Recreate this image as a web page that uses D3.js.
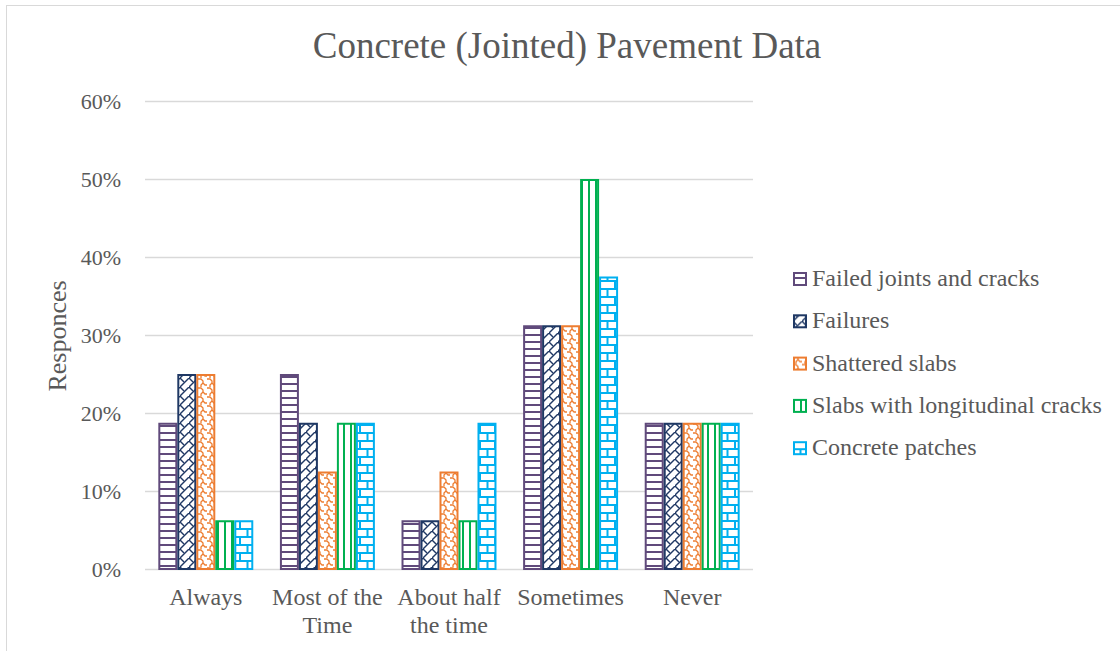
<!DOCTYPE html>
<html>
<head>
<meta charset="utf-8">
<script src="https://cdn.jsdelivr.net/npm/d3@7"></script>
<style>
  html, body { margin: 0; padding: 0; background: #fff; }
</style>
</head>
<body>
<div id="chart"></div>
<script>
// Categories and series (response shares)
const categories = ["Always", "Most of the Time", "About half the time", "Sometimes", "Never"];
const categoryLines = [["Always"], ["Most of the", "Time"], ["About half", "the time"], ["Sometimes"], ["Never"]];
const seriesNames = ["Failed joints and cracks", "Failures", "Shattered slabs", "Slabs with longitudinal cracks", "Concrete patches"];
const failedJoints = [0.1875, 0.25, 0.0625, 0.3125, 0.1875];
const failures = [0.25, 0.1875, 0.0625, 0.3125, 0.1875];
const shatteredSlabs = [0.25, 0.125, 0.125, 0.3125, 0.1875];
const longitudinal = [0.0625, 0.1875, 0.0625, 0.50, 0.1875];
const concretePatches = [0.0625, 0.1875, 0.1875, 0.375, 0.1875];
const yTicks = [0, 0.1, 0.2, 0.3, 0.4, 0.5, 0.6];

const seriesValues = [failedJoints, failures, shatteredSlabs, longitudinal, concretePatches];
const colors = ["#604A7B", "#1F3864", "#ED7D31", "#00B050", "#00B0F0"];

const width = 1120, height = 651;
const margin = { top: 101, right: 367, bottom: 82, left: 145 };
const FONT = "'Liberation Serif', 'Times New Roman', serif";

const svg = d3.select("#chart").append("svg")
    .attr("width", width)
    .attr("height", height)
    .style("font-family", FONT);

// patterns (Excel-like hatch fills)
const defs = svg.append("defs");
function pattern(id, w, h, color, draw) {
    const p = defs.append("pattern")
        .attr("id", id)
        .attr("patternUnits", "userSpaceOnUse")
        .attr("width", w).attr("height", h);
    p.append("rect").attr("width", w).attr("height", h).attr("fill", "#fff");
    draw(p.append("g").attr("stroke", color).attr("fill", "none").attr("stroke-width", 2));
}
// horizontal lines
pattern("p0", 8, 7, colors[0], g => g.append("path").attr("d", "M0,6 H8"));
// shingle
pattern("p1", 9, 9, colors[1], g => {
    g.append("path").attr("d", "M0,9 L9,0").attr("stroke-width", 1.4);
    g.append("path").attr("d", "M0,0 L4,4").attr("stroke-width", 1.4);
});
// wavy
pattern("p2", 9, 9, colors[2], g => {
    g.append("path").attr("d", "M0,1 L3,1 L5,3 L5,5 L7,7 L9,7").attr("stroke-width", 1.3);
    g.append("path").attr("d", "M5,5 L3,7 L3,9").attr("stroke-width", 1.3);
});
// vertical lines
pattern("p3", 7, 8, colors[3], g => g.append("path").attr("d", "M1,0 V8"));
// horizontal brick
pattern("p4", 15, 16, colors[4], g => {
    g.append("path").attr("d", "M0,1 H15 M0,9 H15 M7.5,1 V9 M0,9 V17 M15,9 V17").attr("stroke-width", 2);
});

// chart frame
svg.append("rect")
    .attr("x", 6.5).attr("y", 5.5)
    .attr("width", width + 10).attr("height", height + 10)
    .attr("fill", "none").attr("stroke", "#D9D9D9");

const x = d3.scaleBand()
    .domain(categories)
    .range([margin.left, width - margin.right])
    .paddingInner(0.219)
    .paddingOuter(0.1095);

const xInner = d3.scaleBand()
    .domain(seriesNames)
    .range([0, x.bandwidth()]);

const y = d3.scaleLinear()
    .domain([0, 0.6])
    .range([height - margin.bottom, margin.top]);

// grid
svg.append("g")
    .selectAll("line")
    .data(yTicks)
    .join("line")
    .attr("x1", margin.left).attr("x2", width - margin.right)
    .attr("y1", d => Math.round(y(d)) + 0.5).attr("y2", d => Math.round(y(d)) + 0.5)
    .attr("stroke", "#D9D9D9").attr("stroke-width", 1.5);

// y labels
svg.append("g")
    .selectAll("text")
    .data(yTicks)
    .join("text")
    .attr("x", 121)
    .attr("y", d => y(d) + 7.5)
    .attr("text-anchor", "end")
    .attr("fill", "#595959")
    .style("font-size", "22px")
    .text(d3.format(".0%"));

// bars
const groups = svg.append("g")
    .selectAll("g")
    .data(seriesValues)
    .join("g");

groups.selectAll("rect")
    .data((vals, si) => vals.map((v, ci) => ({ v, si, ci })))
    .join("rect")
    .attr("x", d => x(categories[d.ci]) + xInner(seriesNames[d.si]) + 1)
    .attr("y", d => y(d.v) + 1)
    .attr("width", xInner.bandwidth() - 2)
    .attr("height", d => y(0) - y(d.v) - 1)
    .attr("fill", d => `url(#p${d.si})`)
    .attr("stroke", d => colors[d.si])
    .attr("stroke-width", 2);

// x labels
const xl = svg.append("g")
    .selectAll("text")
    .data(categories)
    .join("text")
    .attr("x", d => x(d) + x.bandwidth() / 2)
    .attr("y", 605)
    .attr("text-anchor", "middle")
    .attr("fill", "#595959")
    .style("font-size", "24px");
xl.selectAll("tspan")
    .data((d, i) => categoryLines[i])
    .join("tspan")
    .attr("x", function () { return d3.select(this.parentNode).attr("x"); })
    .attr("dy", (d, i) => i === 0 ? 0 : 28)
    .text(d => d);

// title
svg.append("text")
    .attr("x", 567).attr("y", 58)
    .attr("text-anchor", "middle")
    .attr("fill", "#595959")
    .style("font-size", "37px")
    .text("Concrete (Jointed) Pavement Data");

// y axis title
svg.append("text")
    .attr("transform", "rotate(-90)")
    .attr("x", -336).attr("y", 66)
    .attr("text-anchor", "middle")
    .attr("fill", "#595959")
    .style("font-size", "26px")
    .text("Responces");

// legend
const legend = svg.append("g")
    .selectAll("g")
    .data(seriesNames)
    .join("g")
    .attr("transform", (d, i) => `translate(793, ${279 + i * 42.3})`);
legend.append("rect")
    .attr("x", 1).attr("y", -6)
    .attr("width", 12).attr("height", 12)
    .attr("fill", (d, i) => `url(#p${i})`)
    .attr("stroke", (d, i) => colors[i])
    .attr("stroke-width", 2);
legend.append("text")
    .attr("x", 19).attr("y", 7)
    .attr("fill", "#595959")
    .style("font-size", "24px")
    .text(d => d);
</script>
</body>
</html>
